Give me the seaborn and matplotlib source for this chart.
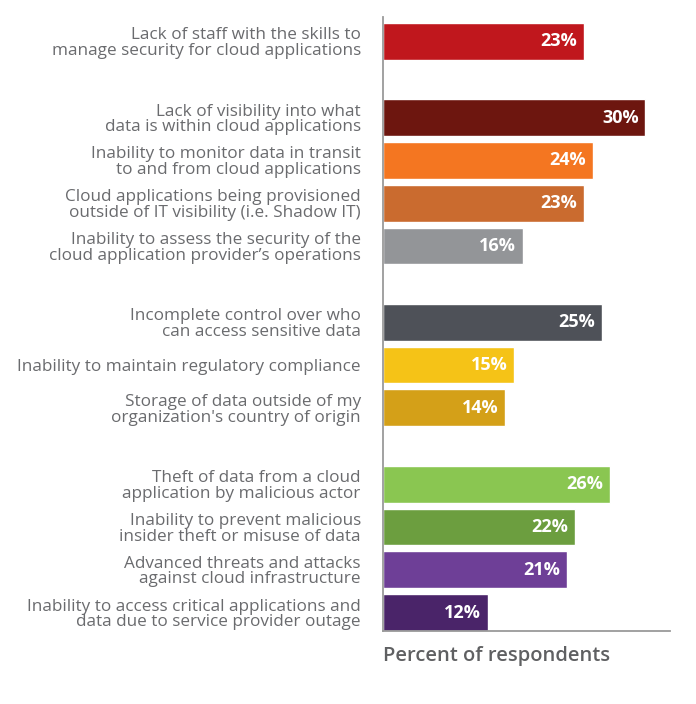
import pandas as pd
import numpy as np
import matplotlib
matplotlib.use("Agg")
import matplotlib.pyplot as plt
import seaborn as sns

# datos del gráfico
labels = [
    "Lack of staff with the skills to\nmanage security for cloud applications",
    "Lack of visibility into what\ndata is within cloud applications",
    "Inability to monitor data in transit\nto and from cloud applications",
    "Cloud applications being provisioned\noutside of IT visibility (i.e. Shadow IT)",
    "Inability to assess the security of the\ncloud application provider\u2019s operations",
    "Incomplete control over who\ncan access sensitive data",
    "Inability to maintain regulatory compliance",
    "Storage of data outside of my\norganization's country of origin",
    "Theft of data from a cloud\napplication by malicious actor",
    "Inability to prevent malicious\ninsider theft or misuse of data",
    "Advanced threats and attacks\nagainst cloud infrastructure",
    "Inability to access critical applications and\ndata due to service provider outage",
]
values = [23, 30, 24, 23, 16, 25, 15, 14, 26, 22, 21, 12]
group_sizes = [1, 4, 3, 4]
colors = ["#C0171D", "#6D160F", "#F47621", "#CA6B2F", "#939598", "#4E5158",
          "#F5C317", "#D4A018", "#8AC651", "#6C9E3F", "#6E3F97", "#4A2469"]

# posiciones con hueco entre grupos
gap = 0.78
pos = []
start = 0.0
for n in group_sizes:
    pos.extend(start + np.arange(n))
    start = pos[-1] + 1 + gap

df = pd.DataFrame({"label": labels, "pct": values, "pos": pos})

sns.set_style("white")
plt.rcParams["font.family"] = ["Open Sans", "DejaVu Sans"]

fig = plt.figure(figsize=(6.96, 7.04), dpi=100)
ax = fig.add_axes([0.5503, 0.1037, 0.4123, 0.8722])

sns.barplot(data=df, x="pct", y="pos", hue="label", palette=colors,
            orient="h", native_scale=True, width=0.86, dodge=False,
            saturation=1, legend=False, ax=ax)

ax.set_xlim(0, 32.8)
ax.set_ylim(pos[-1] + 0.43, pos[0] - 0.57)

ax.set_yticks(pos)
ax.set_yticklabels(labels, fontsize=12.3, color="#6A6B6E", linespacing=0.97)
ax.tick_params(axis="y", length=0, pad=16)
ax.set_xticks([])
ax.set_ylabel("")
ax.set_xlabel("Percent of respondents", fontsize=14.5, fontweight="semibold",
              color="#5F6062", loc="left", labelpad=11)

for c in ax.containers:
    txts = ax.bar_label(c, labels=[f"{int(b.get_width())}%" for b in c],
                        padding=-5, color="white", fontsize=13,
                        fontweight="bold")
    for t in txts:
        t.set_ha("right")

for side in ["top", "right"]:
    ax.spines[side].set_visible(False)
for side in ["left", "bottom"]:
    ax.spines[side].set_color("#9A9A9A")
    ax.spines[side].set_linewidth(1.3)

fig.savefig("out.png", dpi=100)
